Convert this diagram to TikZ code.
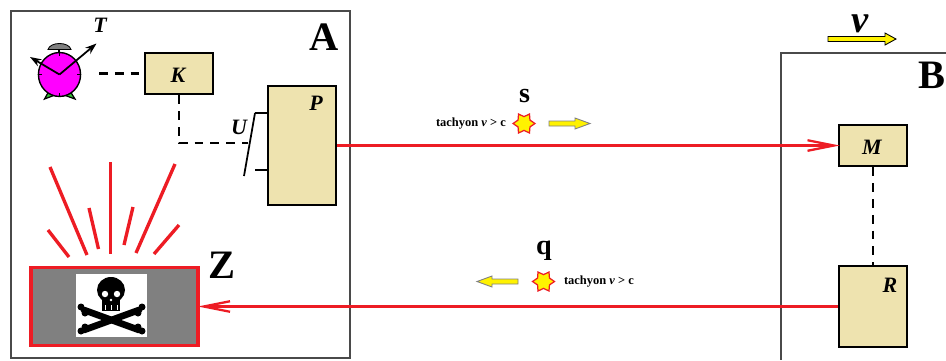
\documentclass[tikz,border=0pt]{standalone}
\usepackage{fontspec}
\setmainfont{Liberation Serif}
\usetikzlibrary{positioning,arrows.meta,shapes.geometric}

\definecolor{boxtan}{HTML}{EEE3AF}
\definecolor{rayred}{HTML}{ED1C24}
\definecolor{framegray}{HTML}{4A4A4A}
\definecolor{clockpink}{HTML}{FF00FF}
\definecolor{footgreen}{HTML}{30C030}

\tikzset{
	frame/.style={draw=framegray,line width=.85pt},
	unit/.style={draw=black,fill=boxtan,line width=1.4pt,inner sep=0pt},
	wire/.style={black,line width=1.25pt,dash pattern=on 5pt off 4pt},
	signal/.style={rayred,line width=1.3pt,shorten >=-1pt},
	ray/.style={rayred,line width=1.9pt},
	tag/.style={font=\fontsize{12.5}{13}\selectfont\bfseries\itshape,inner sep=0pt},
	bigtag/.style={font=\fontsize{23}{24}\selectfont\bfseries,inner sep=0pt},
	small/.style={font=\fontsize{16}{16}\selectfont\bfseries,inner sep=0pt},
	note/.style={font=\fontsize{7.1}{8}\selectfont\bfseries,inner sep=0pt},
	burst/.style={star,star points=6,star point ratio=1.6,draw=rayred,fill=yellow,line width=.7pt,minimum size=12.5pt,inner sep=0pt,rotate=90},
	flow/.style={draw=gray,fill=yellow,line width=.5pt,line join=miter},
	tick/.style={black,line width=.5pt},
	hand/.style={-{Stealth[length=6.5pt,width=4.5pt]},black,line width=1pt},
	bone/.style={black,line width=3.8pt,line cap=round}
}

\begin{document}
\begin{tikzpicture}[x=.02cm,y=-.02cm]
	\useasboundingbox (0,0) rectangle (946,360);
	
	%frames of the two stations
	\draw[frame] (11,11) rectangle (350,358);
	\draw[frame] (946,53) -- (781,53) -- (781,360);
	\node[bigtag] (labelA) at (324,37) {A};
	\node[bigtag] (labelB) at (932,75) {B};
	
	%alarm clock
	\draw[black,fill=footgreen,line width=.7pt] (44.5,99) -- (49,91) -- (55,95) -- cycle;
	\draw[black,fill=footgreen,line width=.7pt] (75,99) -- (70,91) -- (64,95) -- cycle;
	\draw[black,line width=.7pt] (59,49) -- (59,53);
	\draw[black,fill=gray,line width=.5pt] (48,49.5) .. controls (50,41.5) and (69,41.5) .. (71,49.5) -- cycle;
	\node[ellipse,draw=black,fill=clockpink,line width=.8pt,minimum width=24pt,minimum height=25pt,inner sep=0pt] (clock) at (59.5,74.5) {};
	\draw[tick] (59.5,52.5) -- (59.5,56);
	\draw[tick] (59.5,93) -- (59.5,96.5);
	\draw[tick] (38.5,74.5) -- (42,74.5);
	\draw[tick] (77,74.5) -- (80.5,74.5);
	\draw[hand] (clock.center) -- (30,57);
	\draw[hand] (clock.center) -- (96.5,43.5);
	\node[tag] (labelT) at (100,25) {T};
	
	%control boxes
	\node[unit,minimum width=38.5pt,minimum height=23.5pt] (K) at (179,73.5) {};
	\node[tag] (labelK) at (178,75) {K};
	\node[unit,minimum width=38.5pt,minimum height=68pt] (P) at (302,145.5) {};
	\node[tag] (labelP) at (316,103) {P};
	\node[unit,minimum width=38.5pt,minimum height=23.5pt] (M) at (873,145.5) {};
	\node[tag] (labelM) at (872,147) {M};
	\node[unit,minimum width=38.5pt,minimum height=46pt] (R) at (873,306.5) {};
	\node[tag] (labelR) at (890,285) {R};
	
	%switch in front of P
	\coordinate (swtop) at (255,113);
	\coordinate (swbot) at (244,176);
	\coordinate (swlow) at (255,170);
	\coordinate (swhit) at (248,143);
	\coordinate (clockend) at (99,73.5);
	\draw[black,line width=1pt] (swtop) -- (swbot);
	\draw[black,line width=1pt] (swtop) -- (swtop -| P.west);
	\draw[black,line width=1pt] (swlow) -- (swlow -| P.west);
	\node[tag] (labelU) at (239,127) {U};
	
	%dashed links
	\draw[wire] (clockend) -- (K.west);
	\draw[wire] (K.south) |- (swhit);
	\draw[wire] (M.south) -- (R.north);
	
	%target box with skull
	\node[draw=rayred,fill=gray,line width=1.9pt,minimum width=95pt,minimum height=44.5pt,inner sep=0pt] (Zbox) at (114.5,306.5) {};
	\fill[white] (76,274) rectangle (147,337);
	\draw[bone] (84,310) -- (139,330);
	\draw[bone] (139,310) -- (84,330);
	\fill[black] (81,307) circle (3.5); \fill[black] (85,313) circle (3.5);
	\fill[black] (142,307) circle (3.5); \fill[black] (138,313) circle (3.5);
	\fill[black] (81,331) circle (3.5); \fill[black] (85,327) circle (3.5);
	\fill[black] (142,331) circle (3.5); \fill[black] (138,327) circle (3.5);
	\fill[black] (111,290) ellipse (14 and 13);
	\fill[black] (102,298) rectangle (120,311);
	\fill[white] (105,294) circle (3.2);
	\fill[white] (117,294) circle (3.2);
	\fill[white] (111,300) circle (1.3);
	\draw[white,line width=.5pt] (105,305) -- (105,310);
	\draw[white,line width=.5pt] (111,305) -- (111,310);
	\draw[white,line width=.5pt] (117,305) -- (117,310);
	\node[bigtag] (labelZ) at (222,265) {Z};
	
	%rays of the explosion
	\draw[ray] (50,167) -- (87,255);
	\draw[ray] (110.5,162) -- (110.5,254);
	\draw[ray] (175,164) -- (136,253);
	\draw[ray] (89,208) -- (98.5,249);
	\draw[ray] (133,207) -- (124,245);
	\draw[ray] (48,230) -- (69,257);
	\draw[ray] (179,225) -- (154,254);
	
	%the two signals
	\draw[-{Straight Barb[length=15pt,width=6pt]},signal] (P.east) -- (M.west);
	\draw[-{Straight Barb[length=15pt,width=6pt]},signal] (R.west) -- (Zbox.east);
	
	\node[small] (labelS) at (524.5,96) {s};
	\node[note] (noteS) at (471,123.5) {tachyon \textit{v} > c};
	\node[burst] (starS) at (524,123.5) {};
	\filldraw[flow] (549,121) -- (575,121) -- (575,118) -- (590,123.5) -- (575,129) -- (575,126) -- (549,126) -- cycle;
	
	\node[small] (labelQ) at (544,251) {q};
	\node[note] (noteQ) at (599,281.5) {tachyon \textit{v} > c};
	\node[burst] (starQ) at (543.5,281.5) {};
	\filldraw[flow] (518,279) -- (492,279) -- (492,276) -- (477,281.5) -- (492,287) -- (492,284) -- (518,284) -- cycle;
	
	%speed of B
	\node[font=\fontsize{22}{22}\selectfont\bfseries\itshape,inner sep=0pt] (labelV) at (860,24) {v};
	\filldraw[flow,draw=black] (828,36.5) -- (885,36.5) -- (885,33) -- (896,39) -- (885,45) -- (885,41.5) -- (828,41.5) -- cycle;
\end{tikzpicture}
\end{document}
